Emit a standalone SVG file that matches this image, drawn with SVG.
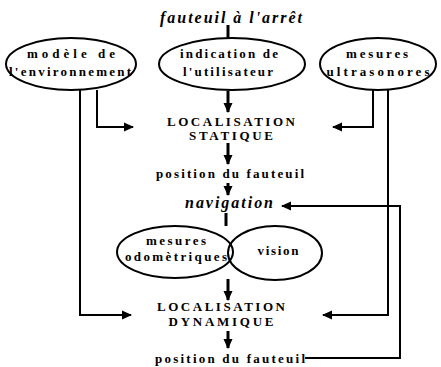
<svg xmlns="http://www.w3.org/2000/svg" width="441" height="367" viewBox="0 0 441 367">
<style>
.t{font-family:"Liberation Serif","Times New Roman",serif;font-weight:bold;font-size:13px;fill:#000;text-anchor:middle}
.i{font-family:"Liberation Serif","Times New Roman",serif;font-weight:bold;font-style:italic;font-size:16px;fill:#000;text-anchor:middle}
.c{font-size:13px}
ellipse{fill:none;stroke:#000;stroke-width:2}
.l{fill:none;stroke:#000;stroke-width:2}
.v{fill:none;stroke:#000;stroke-width:3}
</style>
<defs>
<marker id="ah" markerUnits="userSpaceOnUse" markerWidth="10" markerHeight="10" refX="9" refY="5" orient="auto">
<path d="M0,0.5 L10,5 L0,9.5 Z" fill="#000"/>
</marker>
</defs>
<g id="connectors">
<line class="v" x1="228" y1="25" x2="228" y2="38"/>
<line class="v" x1="228" y1="91" x2="228" y2="112" marker-end="url(#ah)"/>
<polyline class="l" points="97,90 97,127 133,127" marker-end="url(#ah)"/>
<polyline class="l" points="80,90 80,315 131,315" marker-end="url(#ah)"/>
<polyline class="l" points="373,90 373,127 333,127" marker-end="url(#ah)"/>
<polyline class="l" points="388,90 388,315 323,315" marker-end="url(#ah)"/>
<line class="v" x1="228" y1="143" x2="228" y2="164" marker-end="url(#ah)"/>
<line class="v" x1="228" y1="183" x2="228" y2="195" marker-end="url(#ah)"/>
<polyline class="l" points="305,358 400,358 400,206 282,206" marker-end="url(#ah)"/>
<line class="v" x1="226" y1="213" x2="226" y2="226"/>
<line class="v" x1="228" y1="279" x2="228" y2="300" marker-end="url(#ah)"/>
<line class="v" x1="228" y1="331" x2="228" y2="348" marker-end="url(#ah)"/>
</g>
<g id="fauteuil-arret"><text class="i" x="231" y="23" textLength="142" lengthAdjust="spacing">fauteuil à l'arrêt</text></g>
<g id="modele">
<ellipse cx="71" cy="64" rx="65" ry="26"/>
<text class="t" x="71" y="58" textLength="88" lengthAdjust="spacing">modèle de</text>
<text class="t" x="70" y="76" textLength="122" lengthAdjust="spacing">l'environnement</text>
</g>
<g id="indication">
<ellipse cx="232" cy="64" rx="73" ry="26"/>
<text class="t" x="229" y="58" textLength="98" lengthAdjust="spacing">indication de</text>
<text class="t" x="228" y="76" textLength="90" lengthAdjust="spacing">l'utilisateur</text>
</g>
<g id="ultrasonores">
<ellipse cx="378" cy="64" rx="58" ry="26"/>
<text class="t" x="377" y="58" textLength="62" lengthAdjust="spacing">mesures</text>
<text class="t" x="378" y="76" textLength="103" lengthAdjust="spacing">ultrasonores</text>
</g>
<g id="loc-statique">
<text class="t c" x="231" y="126" textLength="128" lengthAdjust="spacing">LOCALISATION</text>
<text class="t c" x="231" y="140" textLength="84" lengthAdjust="spacing">STATIQUE</text>
</g>
<g id="position1"><text class="t" x="230" y="178" textLength="148" lengthAdjust="spacing">position du fauteuil</text></g>
<g id="navigation"><text class="i" x="229" y="208" textLength="88" lengthAdjust="spacing">navigation</text></g>
<g id="odometriques">
<ellipse cx="175" cy="252" rx="58" ry="26"/>
<text class="t" x="176" y="245" textLength="60" lengthAdjust="spacing">mesures</text>
<text class="t" x="176" y="261" textLength="102" lengthAdjust="spacing">odomètriques</text>
</g>
<g id="vision">
<ellipse cx="275" cy="253" rx="47" ry="27"/>
<text class="t" x="278" y="255" textLength="41" lengthAdjust="spacing">vision</text>
</g>
<g id="loc-dynamique">
<text class="t c" x="221" y="311" textLength="128" lengthAdjust="spacing">LOCALISATION</text>
<text class="t c" x="221" y="326" textLength="105" lengthAdjust="spacing">DYNAMIQUE</text>
</g>
<g id="position2"><text class="t" x="230" y="363" textLength="150" lengthAdjust="spacing">position du fauteuil</text></g>
</svg>
